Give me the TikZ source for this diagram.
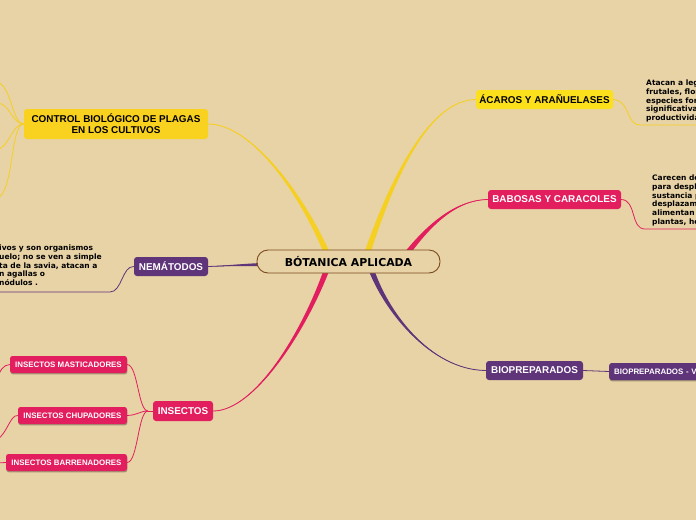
\documentclass[tikz,border=0pt]{standalone}
\usepackage{fontspec}
\setmainfont{Liberation Sans}
\newfontfamily\dv{DejaVu Sans}
\usetikzlibrary{calc,backgrounds,shadows}
\definecolor{bg}{HTML}{E8D3A6}
\definecolor{ctrlY}{HTML}{F9D11F}
\definecolor{acY}{HTML}{FCE01B}
\definecolor{lineY}{HTML}{F5CF22}
\definecolor{pinkC}{HTML}{E21E5F}
\definecolor{purpC}{HTML}{5F3479}
\definecolor{brownC}{HTML}{7A4A1E}
\newcommand\taperlink[6]{%
  \fill[#1] ($#2-#6$) .. controls ($#3-0.6*#6$) and ($#4-0.15*#6$) .. #5
     .. controls ($#4+0.15*#6$) and ($#3+0.6*#6$) .. ($#2+#6$) -- cycle;
  \draw[#1, line width=0.8pt] #2 .. controls #3 and #4 .. #5;}
\tikzset{
  box/.style={rounded corners=3pt, inner sep=0pt, align=center,
    font=\bfseries\fontsize{9.9}{11.2}\selectfont},
  ybox/.style={box, fill=ctrlY, text=black},
  abox/.style={box, fill=acY, text=black},
  pbox/.style={box, fill=pinkC, text=white},
  vbox/.style={box, fill=purpC, text=white},
  subbox/.style={rounded corners=2.5pt, inner sep=0pt, text=white,
    font=\bfseries\fontsize{7.9}{9}\selectfont,
    drop shadow={shadow xshift=0.4pt, shadow yshift=-1.3pt, opacity=0.3, fill=black}},
  desc/.style={inner sep=0pt, align=left, text=black,
    font=\dv\bfseries\fontsize{7.5}{8.8}\selectfont},
  thin/.style={line width=0.8pt},
}
\begin{document}
\begin{tikzpicture}[x=1pt,y=-1pt]
\useasboundingbox (0,0) rectangle (696,520);

% central node
\node[draw=brownC, line width=0.9pt, fill=bg, rounded corners=11pt,
      minimum width=183pt, minimum height=23pt, inner sep=0pt,
      font=\dv\bfseries\fontsize{10.9}{12}\selectfont] (cen) at (348.5,261.5) {BÓTANICA APLICADA};

% main topic boxes
\node[ybox, minimum width=184pt, minimum height=30pt] (ctrl) at (116,124)
  {CONTROL BIOLÓGICO DE PLAGAS\\EN LOS CULTIVOS};
\node[abox, minimum width=137pt, minimum height=19pt] (ac) at (544.5,99.5) {ÁCAROS Y ARAÑUELASES};
\node[pbox, minimum width=133pt, minimum height=19pt] (bab) at (554.5,199.5) {BABOSAS Y CARACOLES};
\node[vbox, minimum width=97pt, minimum height=19pt] (bio) at (534.5,370.5) {BIOPREPARADOS};
\node[vbox, minimum width=74pt, minimum height=19pt] (nem) at (171,266.5) {NEMÁTODOS};
\node[pbox, minimum width=60pt, minimum height=20pt] (ins) at (183,411) {INSECTOS};

% sub nodes
\node[subbox, fill=pinkC, minimum width=117pt, minimum height=17pt] (mast) at (68.5,364.5) {INSECTOS MASTICADORES};
\node[subbox, fill=pinkC, minimum width=109pt, minimum height=17pt] (chu) at (72.5,415.5) {INSECTOS CHUPADORES};
\node[subbox, fill=pinkC, minimum width=121pt, minimum height=17pt] (bar) at (66.5,462.5) {INSECTOS BARRENADORES};
\node[subbox, fill=purpC, minimum height=17pt, minimum width=96pt, anchor=west, inner xsep=5pt,
      text width=86pt, align=left] (biov) at (609,371.5) {BIOPREPARADOS - V};

% descriptive texts
\node[desc, anchor=north west] (acT) at (646,79.5)
  {Atacan a leg\\frutales, flor\\especies for\\significativa\\productivida};
\node[desc, anchor=north west] (babT) at (652,174.5)
  {Carecen de\\para despl\\sustancia p\\desplazam\\alimentan\\plantas, ho};
\node[desc, anchor=north west] (nemT) at (-1,244.5)
  {ivos y son organismos\\uelo; no se ven a simple\\ta de la savia, atacan a\\n agallas o\\nódulos .};

% helper coordinates
\coordinate (sCtrl) at ($(cen.north)+(-20.5,6)$);
\coordinate (sAc)   at ($(cen.north)+(18,6)$);
\coordinate (sBab)  at ($(cen.north)+(57,6)$);
\coordinate (sIns)  at ($(cen.south)+(-21,-6)$);
\coordinate (sBio)  at ($(cen.south)+(22,-6)$);
\coordinate (sNem)  at ($(cen.west)+(6,3)$);
\coordinate (acU) at (640,125);   \coordinate (acR) at (700,125);
\coordinate (babU) at (645,229);  \coordinate (babR) at (700,229);
\coordinate (nemU) at (110,292);  \coordinate (nemL) at (-4,292);
\coordinate (insJ) at (148,411);
\coordinate (c1) at (-3,82);  \coordinate (c2) at (-3,103);
\coordinate (c3) at (-3,150); \coordinate (c4) at (-3,198);
\coordinate (m1) at (-3,380); \coordinate (h1) at (-3,440); \coordinate (b1) at (-3,463);

\begin{pgfonlayer}{background}
\fill[bg] (0,0) rectangle (696,520);
% main tapered branches
\taperlink{lineY}{(sCtrl)}{(300,190)}{(250,124)}{(ctrl.east)}{(3.2,0)}
\taperlink{lineY}{(sAc)}{(393,175)}{(430,100)}{(ac.west)}{(3.2,0)}
\taperlink{pinkC}{(sBab)}{(428,226)}{(455,200)}{(bab.west)}{(2,2)}
\taperlink{pinkC}{(sIns)}{(305,330)}{(255,411)}{(ins.east)}{(3,0)}
\taperlink{purpC}{(sBio)}{(385,310)}{(430,370)}{(bio.west)}{(3,0)}
\taperlink{purpC}{(sNem)}{(240,265)}{(222,266)}{(nem.east)}{(0,1.6)}

% CONTROL outgoing
\draw[lineY, thin] (ctrl.west) .. controls (12,124) and (12,86) .. (c1);
\draw[lineY, thin] (ctrl.west) .. controls (12,124) and (10,103) .. (c2);
\draw[lineY, thin] (ctrl.west) .. controls (12,124) and (10,146) .. (c3);
\draw[lineY, thin] (ctrl.west) .. controls (10,124) and (14,194) .. (c4);

% description underlines
\draw[lineY, thin] (ac.east) .. controls (630,100) and (626,125) .. (acU) -- (acR);
\draw[pinkC, thin] (bab.east) .. controls (637,200) and (630,229) .. (babU) -- (babR);
\draw[purpC, thin] (nem.west) .. controls (122,266) and (122,292) .. (nemU) -- (nemL);

% insects
\draw[pinkC, thin] (ins.west) -- (insJ);
\draw[pinkC, thin] (mast.east) .. controls (138,365) and (138,411) .. (insJ);
\draw[pinkC, thin] (chu.east) .. controls (138,415) and (140,411) .. (insJ);
\draw[pinkC, thin] (bar.east) .. controls (138,462) and (138,411) .. (insJ);
\draw[pinkC, thin] (mast.west) .. controls (3,365) and (0,370) .. (m1);
\draw[pinkC, thin] (chu.west) .. controls (10,415) and (8,432) .. (h1);
\draw[pinkC, thin] (bar.west) -- (b1);

% biopreparados
\draw[purpC, thin] (bio.east) -- (biov.west);
\end{pgfonlayer}
\end{tikzpicture}
\end{document}
